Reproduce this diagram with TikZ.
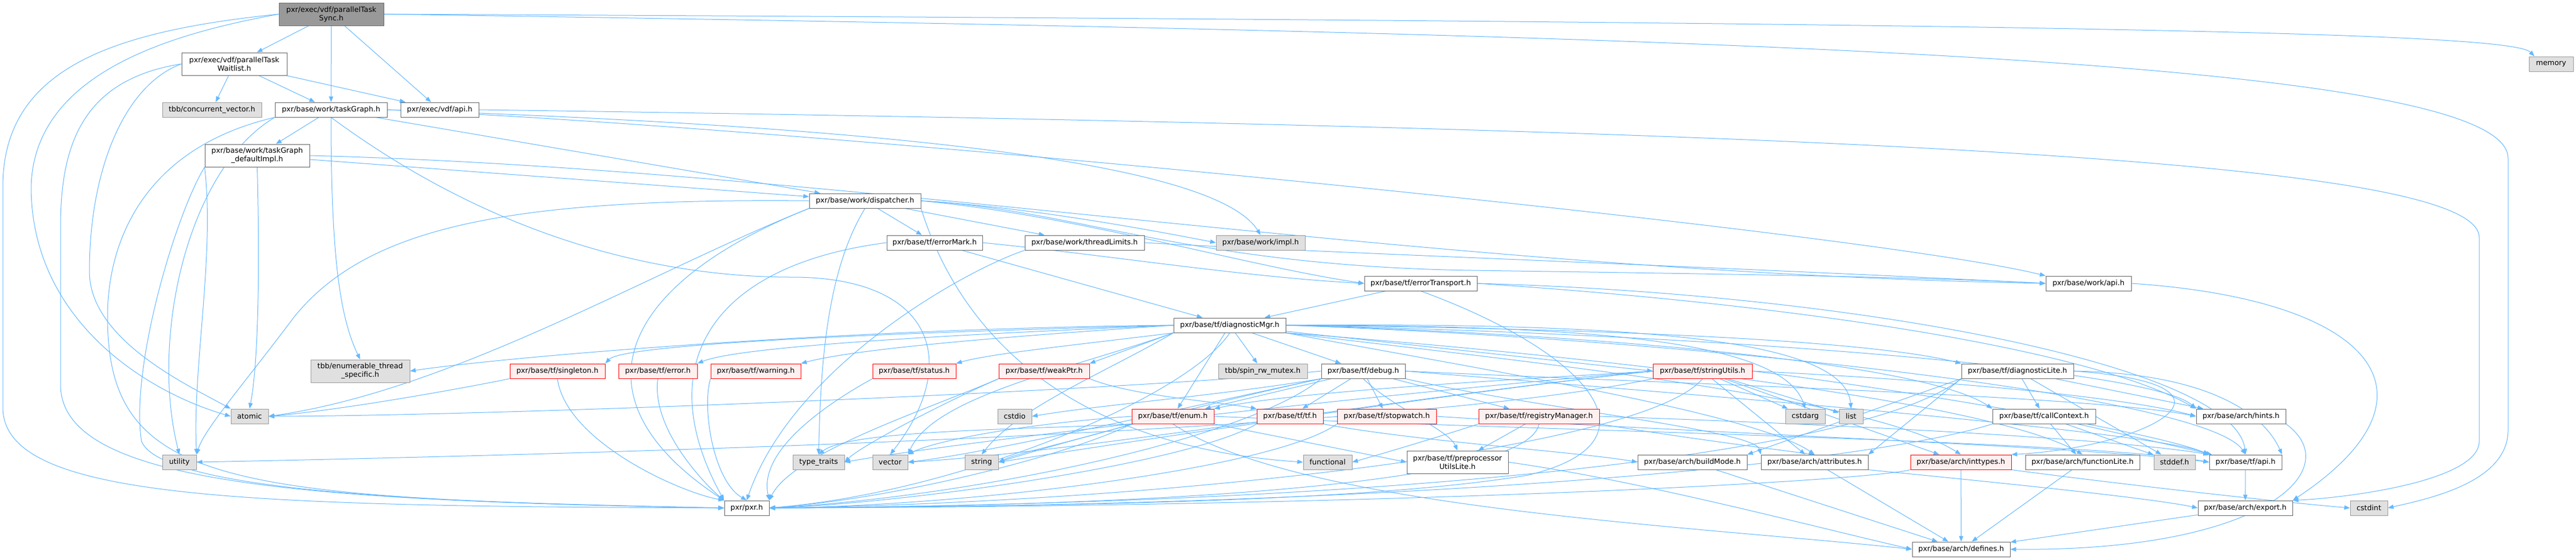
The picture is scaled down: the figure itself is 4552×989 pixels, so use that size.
\documentclass[tikz,border=0pt]{standalone}
\usepackage{fontspec}
\newfontfamily\dejavu{DejaVu Sans}
\usepackage{tikz}
\usetikzlibrary{arrows.meta}
\pgfdeclarelayer{bg}
\pgfdeclarelayer{edges}
\pgfsetlayers{bg,edges,main}
\newcommand{\depfont}{\dejavu\fontsize{12.8}{15}\selectfont}

\begin{document}
\begin{tikzpicture}[x=1pt,y=1pt,yscale=-1,
  box/.style={draw={rgb,255:red,102;green,102;blue,102}, fill=white, line width=1pt, inner sep=0pt, minimum height=26pt, align=center, font=\depfont},
  main/.style={box, fill={rgb,255:red,153;green,153;blue,153}},
  ext/.style={box, draw={rgb,255:red,153;green,153;blue,153}, fill={rgb,255:red,224;green,224;blue,224}},
  trunc/.style={box, draw={rgb,255:red,255;green,0;blue,0}, fill={rgb,255:red,255;green,240;blue,240}},
  edge/.style={draw={rgb,255:red,99;green,184;blue,255}, line width=1pt, -{Triangle[length=10pt,width=7.5pt]}}]

\useasboundingbox (0,0) rectangle (4552,989);
\begin{pgfonlayer}{bg}
\fill[white] (0,0) rectangle (4552,989);
\end{pgfonlayer}

% Nodes: vdf and work
\node[main, minimum width=185pt, minimum height=40pt] (sync) at (585.5,25) {pxr/exec/vdf/parallelTask\\Sync.h};
\node[box, minimum width=186pt, minimum height=40pt] (waitlist) at (414,113) {pxr/exec/vdf/parallelTask\\Waitlist.h};
\node[ext, minimum width=175pt] (concvec) at (374.5,194) {tbb/concurrent\_vector.h};
\node[box, minimum width=198pt] (taskGraph) at (585,194) {pxr/base/work/taskGraph.h};
\node[box, minimum width=138pt] (vdfApi) at (777,194) {pxr/exec/vdf/api.h};
\node[ext, minimum width=78pt] (memory) at (4508,113) {memory};
\node[box, minimum width=185pt, minimum height=40pt] (defaultImpl) at (454.5,275) {pxr/base/work/taskGraph\\\_defaultImpl.h};
\node[box, minimum width=197pt] (dispatcher) at (1528.5,355) {pxr/base/work/dispatcher.h};
\node[box, minimum width=169pt] (errorMark) at (1651.5,429) {pxr/base/tf/errorMark.h};
\node[box, minimum width=211pt] (threadLimits) at (1916.5,429) {pxr/base/work/threadLimits.h};
\node[ext, minimum width=157pt] (workImpl) at (2227.5,429) {pxr/base/work/impl.h};
\node[box, minimum width=199pt] (errorTransport) at (2510.5,501) {pxr/base/tf/errorTransport.h};
\node[box, minimum width=151pt] (workApi) at (3690.5,501) {pxr/base/work/api.h};
\node[box, minimum width=198pt] (diagMgr) at (2173,575) {pxr/base/tf/diagnosticMgr.h};

% Nodes: tf row
\node[ext, minimum width=175pt, minimum height=40pt] (enumTS) at (636.5,656) {tbb/enumerable\_thread\\\_specific.h};
\node[trunc, minimum width=168pt] (singleton) at (985,656) {pxr/base/tf/singleton.h};
\node[trunc, minimum width=139pt] (error) at (1162.5,656) {pxr/base/tf/error.h};
\node[trunc, minimum width=159pt] (warning) at (1335.5,656) {pxr/base/tf/warning.h};
\node[trunc, minimum width=147pt] (status) at (1615.5,656) {pxr/base/tf/status.h};
\node[trunc, minimum width=160pt] (weakPtr) at (1845,656) {pxr/base/tf/weakPtr.h};
\node[ext, minimum width=157pt] (spinMutex) at (2231.5,656) {tbb/spin\_rw\_mutex.h};
\node[box, minimum width=148pt] (debug) at (2409,656) {pxr/base/tf/debug.h};
\node[trunc, minimum width=175pt] (stringUtils) at (3008.5,656) {pxr/base/tf/stringUtils.h};
\node[box, minimum width=198pt] (diagLite) at (3565,656) {pxr/base/tf/diagnosticLite.h};

\node[ext, minimum width=66pt] (atomic) at (441,736) {atomic};
\node[ext, minimum width=60pt] (cstdio) at (1793,736) {cstdio};
\node[trunc, minimum width=145pt] (enum) at (2072.5,736) {pxr/base/tf/enum.h};
\node[trunc, minimum width=117pt] (tf) at (2279.5,736) {pxr/base/tf/tf.h};
\node[trunc, minimum width=175pt] (stopwatch) at (2450.5,736) {pxr/base/tf/stopwatch.h};
\node[trunc, minimum width=213pt] (registryMgr) at (2719.5,736) {pxr/base/tf/registryManager.h};
\node[ext, minimum width=70pt] (cstdarg) at (3190,736) {cstdarg};
\node[ext, minimum width=42pt] (list) at (3271,736) {list};
\node[box, minimum width=182pt] (callContext) at (3612,736) {pxr/base/tf/callContext.h};
\node[box, minimum width=158pt] (hints) at (3960,736) {pxr/base/arch/hints.h};

% Nodes: arch and std
\node[ext, minimum width=60pt] (utility) at (317,817) {utility};
\node[ext, minimum width=91pt] (typeTraits) at (1446.5,817) {type\_traits};
\node[ext, minimum width=62pt] (vector) at (1573,817) {vector};
\node[ext, minimum width=59pt] (string) at (1734.5,817) {string};
\node[ext, minimum width=86pt] (functional) at (2346,817) {functional};
\node[box, minimum width=179pt, minimum height=40pt] (ppUtils) at (2575.5,817) {pxr/base/tf/preprocessor\\UtilsLite.h};
\node[box, minimum width=193pt] (buildMode) at (2990.5,817) {pxr/base/arch/buildMode.h};
\node[box, minimum width=189pt] (attributes) at (3206.5,817) {pxr/base/arch/attributes.h};
\node[trunc, minimum width=178pt] (inttypes) at (3465,817) {pxr/base/arch/inttypes.h};
\node[box, minimum width=202pt] (functionLite) at (3680,817) {pxr/base/arch/functionLite.h};
\node[ext, minimum width=73pt] (stddef) at (3842.5,817) {stddef.h};
\node[box, minimum width=128pt] (tfApi) at (3968,817) {pxr/base/tf/api.h};
\node[box, minimum width=79pt] (pxr) at (1319.5,898) {pxr/pxr.h};
\node[box, minimum width=167pt] (export) at (3967.5,898) {pxr/base/arch/export.h};
\node[ext, minimum width=66pt] (cstdint) at (4186,898) {cstdint};
\node[box, minimum width=173pt] (defines) at (3465.5,971) {pxr/base/arch/defines.h};

\begin{pgfonlayer}{edges}
% Edges from parallelTaskSync.h
\draw[edge] (sync) -- (waitlist);
\draw[edge] (sync) -- (taskGraph);
\draw[edge] (sync) -- (vdfApi);
\draw[edge] (sync.west) .. controls (300,60) and (60,130) .. (55,330) .. controls (55,560) and (250,690) .. (atomic.west);
\draw[edge] (sync.west) .. controls (200,55) and (5,120) .. (5,330) -- (5,720) .. controls (5,880) and (400,895) .. (pxr.west);
\draw[edge] (sync.east) .. controls (3800,40) and (4440,60) .. ([xshift=10pt]memory.north west);
\draw[edge] (sync.east) .. controls (3000,60) and (4432,100) .. (4432,280) -- (4432,760) .. controls (4432,850) and (4300,880) .. (cstdint.east);

% Edges from parallelTaskWaitlist.h
\draw[edge] (waitlist) -- (concvec);
\draw[edge] (waitlist) -- (taskGraph);
\draw[edge] (waitlist) -- (vdfApi);
\draw[edge] (waitlist.west) .. controls (220,150) and (158,300) .. (158,480) .. controls (158,600) and (330,680) .. (atomic.north west);
\draw[edge] (waitlist.west) .. controls (150,140) and (107,250) .. (107,400) -- (107,680) .. controls (107,850) and (500,885) .. (pxr.west);

% Edges from taskGraph.h
\draw[edge] (taskGraph) -- (defaultImpl);
\draw[edge] (taskGraph.south) .. controls (585,450) and (600,560) .. (enumTS.north);
\draw[edge] (taskGraph.south west) .. controls (330,300) and (265,600) .. (utility.north);
\draw[edge] (taskGraph.south west) .. controls (260,260) and (190,420) .. (190,560) .. controls (190,860) and (400,880) .. (pxr.west);
\draw[edge] (taskGraph) -- (dispatcher);
\draw[edge] (taskGraph.east) .. controls (1500,230) and (3300,410) .. (workApi.north west);
\draw[edge] (taskGraph.east) .. controls (1600,225) and (2150,290) .. (workImpl.north);
\draw[edge] (taskGraph.south) .. controls (900,440) and (1200,490) .. (1400,490) .. controls (1650,490) and (1700,640) .. (vector.north);

% Edges from vdf/api.h
\draw[edge] (vdfApi.east) .. controls (3400,230) and (4381,290) .. (4381,420) -- (4381,780) .. controls (4381,850) and (4150,880) .. (export.north east);

% Edges from taskGraph_defaultImpl.h
\draw[edge] (defaultImpl) -- (dispatcher);
\draw[edge] (defaultImpl.east) .. controls (1500,300) and (2500,480) .. (workApi.west);
\draw[edge] (defaultImpl.south west) .. controls (380,450) and (340,650) .. (utility.north east);
\draw[edge] (defaultImpl.south west) .. controls (310,380) and (230,650) .. (250,780) .. controls (290,880) and (900,890) .. (pxr.west);
\draw[edge] (defaultImpl.south) .. controls (460,500) and (455,650) .. (atomic.north);

% Edges from dispatcher.h
\draw[edge] (dispatcher) -- (errorMark);
\draw[edge] (dispatcher) -- (threadLimits);
\draw[edge] (dispatcher.south) .. controls (1460,480) and (1450,650) .. (typeTraits.north);
\draw[edge] (dispatcher.west) .. controls (900,350) and (650,400) .. (520,560) .. controls (430,680) and (360,760) .. (utility.north east);
\draw[edge] (dispatcher.south west) .. controls (1150,480) and (800,690) .. (atomic.east);
\draw[edge] (dispatcher.south west) .. controls (1100,500) and (1000,700) .. (pxr.north west);
\draw[edge] (dispatcher.south east) .. controls (1700,600) and (1900,790) .. (functional.west);
\draw[edge] (dispatcher.east) .. controls (1900,380) and (2200,470) .. (errorTransport.west);
\draw[edge] (dispatcher.east) .. controls (1800,365) and (2000,400) .. (workImpl.west);
\draw[edge] (dispatcher.east) .. controls (1900,370) and (2100,470) .. (2600,478) .. controls (3100,485) and (3400,490) .. (workApi.west);

% Edges from errorMark.h and threadLimits.h
\draw[edge] (errorMark) -- (diagMgr);
\draw[edge] (errorMark.east) .. controls (1950,450) and (2200,490) .. (errorTransport.west);
\draw[edge] (errorMark.west) .. controls (1250,470) and (1150,650) .. (pxr.north west);
\draw[edge] (threadLimits.east) .. controls (2300,445) and (3000,470) .. (workApi.west);
\draw[edge] (threadLimits.south west) .. controls (1700,480) and (1400,650) .. (pxr.north);

% Edges from errorTransport.h and work/api.h
\draw[edge] (errorTransport) -- (diagMgr);
\draw[edge] (errorTransport.south) .. controls (2800,620) and (2950,780) .. (2700,840) .. controls (2400,890) and (1800,895) .. (pxr.east);
\draw[edge] (errorTransport.east) .. controls (3300,520) and (3950,650) .. (tfApi.north);
\draw[edge] (errorTransport.east) .. controls (3200,540) and (3700,620) .. (hints.north west);
\draw[edge] (workApi.east) .. controls (4200,530) and (4330,700) .. (export.north east);

% Edges from diagnosticMgr.h
\draw[edge] (diagMgr.west) .. controls (1500,580) and (900,630) .. (enumTS.east);
\draw[edge] (diagMgr.west) .. controls (1500,590) and (1100,610) .. (singleton.north east);
\draw[edge] (diagMgr.west) .. controls (1600,595) and (1300,615) .. (error.north east);
\draw[edge] (diagMgr.west) .. controls (1700,600) and (1500,620) .. (warning.north east);
\draw[edge] (diagMgr.south west) .. controls (1900,610) and (1750,625) .. (status.north east);
\draw[edge] (diagMgr.south west) -- (weakPtr.north east);
\draw[edge] (diagMgr) -- (spinMutex);
\draw[edge] (diagMgr) -- (debug);
\draw[edge] (diagMgr) -- (enum);
\draw[edge] (diagMgr) -- (stringUtils.west);
\draw[edge] (diagMgr.east) .. controls (2800,580) and (3300,600) .. (diagLite.north west);
\draw[edge] (diagMgr.east) .. controls (2800,575) and (3150,600) .. (cstdarg.north);
\draw[edge] (diagMgr.east) .. controls (2900,570) and (3260,600) .. (list.north);
\draw[edge] (diagMgr.east) .. controls (2800,590) and (3400,640) .. (callContext.north west);
\draw[edge] (diagMgr.east) .. controls (3000,600) and (3900,700) .. (tfApi.north);
\draw[edge] (diagMgr.east) .. controls (3000,590) and (3800,650) .. (hints.north west);
\draw[edge] (diagMgr.south east) .. controls (2600,650) and (3100,730) .. (attributes.north);
\draw[edge] (diagMgr.south east) .. controls (2700,640) and (3300,700) .. (inttypes.north);
\draw[edge] (diagMgr.south east) .. controls (2700,620) and (3500,700) .. (functionLite.north);
\draw[edge] (diagMgr.south west) .. controls (1900,650) and (1650,700) .. (vector.north east);
\draw[edge] (diagMgr.south west) .. controls (1950,660) and (1800,720) .. (string.north);
\draw[edge] (diagMgr.south) .. controls (2100,700) and (1700,870) .. (pxr.east);

% Edges from debug.h
\draw[edge] (debug) -- (tf);
\draw[edge] (debug) -- (stopwatch);
\draw[edge] (debug) -- (registryMgr);
\draw[edge] (debug) -- (enum);
\draw[edge] (debug.south) .. controls (2460,720) and (2560,760) .. (ppUtils.north);
\draw[edge] (debug.south east) .. controls (2700,720) and (3100,760) .. (attributes.north west);
\draw[edge] (debug.east) .. controls (3000,680) and (3700,700) .. (hints.west);
\draw[edge] (debug.east) .. controls (2900,690) and (3800,760) .. (tfApi.north west);
\draw[edge] (debug.west) .. controls (2000,690) and (900,735) .. (atomic.east);
\draw[edge] (debug.south west) .. controls (2150,700) and (1950,715) .. (cstdio.east);
\draw[edge] (debug.south west) .. controls (2100,720) and (1850,790) .. (string.east);
\draw[edge] (debug.south west) .. controls (2050,730) and (1750,800) .. (vector.east);
\draw[edge] (debug.south west) .. controls (2200,780) and (1700,880) .. (pxr.east);

% Edges from stringUtils.h
\draw[edge] (stringUtils) -- (cstdarg);
\draw[edge] (stringUtils) -- (list);
\draw[edge] (stringUtils) -- (attributes);
\draw[edge] (stringUtils) -- (inttypes);
\draw[edge] (stringUtils.east) .. controls (3300,680) and (3800,760) .. (tfApi.north west);
\draw[edge] (stringUtils.east) .. controls (3400,670) and (3750,700) .. (hints.west);
\draw[edge] (stringUtils.west) .. controls (2700,670) and (2300,690) .. (enum.north east);
\draw[edge] (stringUtils.west) .. controls (2600,690) and (2000,780) .. (string.east);
\draw[edge] (stringUtils.west) .. controls (2500,700) and (1900,800) .. (vector.east);
\draw[edge] (stringUtils.west) .. controls (2400,700) and (1700,780) .. (typeTraits.east);
\draw[edge] (stringUtils.south west) .. controls (2500,760) and (1200,800) .. (utility.east);
\draw[edge] (stringUtils.south) .. controls (2900,800) and (2000,890) .. (pxr.east);

% Edges from diagnosticLite.h and callContext.h
\draw[edge] (diagLite) -- (callContext);
\draw[edge] (diagLite) -- (hints);
\draw[edge] (diagLite) -- (stddef);
\draw[edge] (diagLite.east) .. controls (3900,660) and (4000,730) .. (tfApi.north east);
\draw[edge] (diagLite.east) .. controls (4000,680) and (3800,790) .. (inttypes.north east);
\draw[edge] (diagLite.south west) -- (buildMode.north east);
\draw[edge] (diagLite.south west) -- (attributes.north east);
\draw[edge] (diagLite.south west) .. controls (3300,800) and (2500,890) .. (pxr.east);
\draw[edge] (callContext) -- (functionLite);
\draw[edge] (callContext) -- (stddef);
\draw[edge] (callContext) -- (tfApi);
\draw[edge] (callContext.south west) .. controls (3300,820) and (2500,895) .. (pxr.east);

% Edges from arch headers
\draw[edge] (hints.south east) .. controls (4150,830) and (4000,975) .. (defines.east);
\draw[edge] (tfApi) -- (export);
\draw[edge] (export) -- (defines);
\draw[edge] (inttypes) -- (defines);
\draw[edge] (inttypes.south east) .. controls (3700,850) and (4000,885) .. (cstdint.west);
\draw[edge] (inttypes.south west) .. controls (3300,850) and (2500,895) .. (pxr.east);
\draw[edge] (functionLite) -- (defines);
\draw[edge] (attributes) -- (defines);
\draw[edge] (attributes.south east) .. controls (3500,850) and (3800,880) .. (export.west);
\draw[edge] (buildMode) -- (defines);
\draw[edge] (ppUtils.east) .. controls (2900,850) and (3200,930) .. (defines.west);

% Edges from enum.h, tf.h, stopwatch.h, registryManager.h
\draw[edge] (enum.south west) .. controls (1900,800) and (1600,880) .. (pxr.east);
\draw[edge] (enum.south east) .. controls (2300,780) and (2400,800) .. (ppUtils.west);
\draw[edge] (enum.east) .. controls (2700,760) and (3700,780) .. (tfApi.west);
\draw[edge] (enum.south west) .. controls (1900,780) and (1800,800) .. (string.east);
\draw[edge] (enum.south west) .. controls (1800,760) and (1500,760) .. (typeTraits.north);
\draw[edge] (enum.west) .. controls (1800,750) and (1650,780) .. (vector.north east);
\draw[edge] (enum.south) .. controls (2300,900) and (3000,930) .. (defines.west);
\draw[edge] (tf.south west) .. controls (2100,820) and (1600,890) .. (pxr.east);
\draw[edge] (tf.south east) .. controls (2500,780) and (2800,800) .. (buildMode.west);
\draw[edge] (stopwatch.south west) .. controls (2250,830) and (1700,895) .. (pxr.east);
\draw[edge] (stopwatch.east) .. controls (2900,760) and (3700,790) .. (tfApi.west);
\draw[edge] (registryMgr.south west) .. controls (2550,770) and (2450,800) .. (functional.east);
\draw[edge] (registryMgr) -- (ppUtils);
\draw[edge] (registryMgr.south east) .. controls (2950,770) and (3100,790) .. (attributes.north);
\draw[edge] (registryMgr.east) .. controls (3100,745) and (3700,770) .. (tfApi.north west);
\draw[edge] (registryMgr.south) .. controls (2700,860) and (2000,895) .. (pxr.east);

% Edges from singleton.h, error.h, warning.h, status.h, weakPtr.h
\draw[edge] (singleton.south west) .. controls (800,690) and (600,725) .. (atomic.east);
\draw[edge] (singleton.south) .. controls (1000,780) and (1200,870) .. (pxr.north west);
\draw[edge] (error.south) .. controls (1150,760) and (1250,860) .. (pxr.north west);
\draw[edge] (warning.south west) .. controls (1240,720) and (1260,850) .. (pxr.north);
\draw[edge] (status.south west) .. controls (1450,720) and (1340,800) .. (pxr.north east);
\draw[edge] (weakPtr.south west) .. controls (1650,720) and (1520,790) .. (typeTraits.east);
\draw[edge] (weakPtr.south east) .. controls (2000,700) and (2150,710) .. (tf.north west);
\draw[edge] (weakPtr.south west) .. controls (1650,720) and (1400,800) .. (pxr.north east);
\end{pgfonlayer}

\end{tikzpicture}
\end{document}
